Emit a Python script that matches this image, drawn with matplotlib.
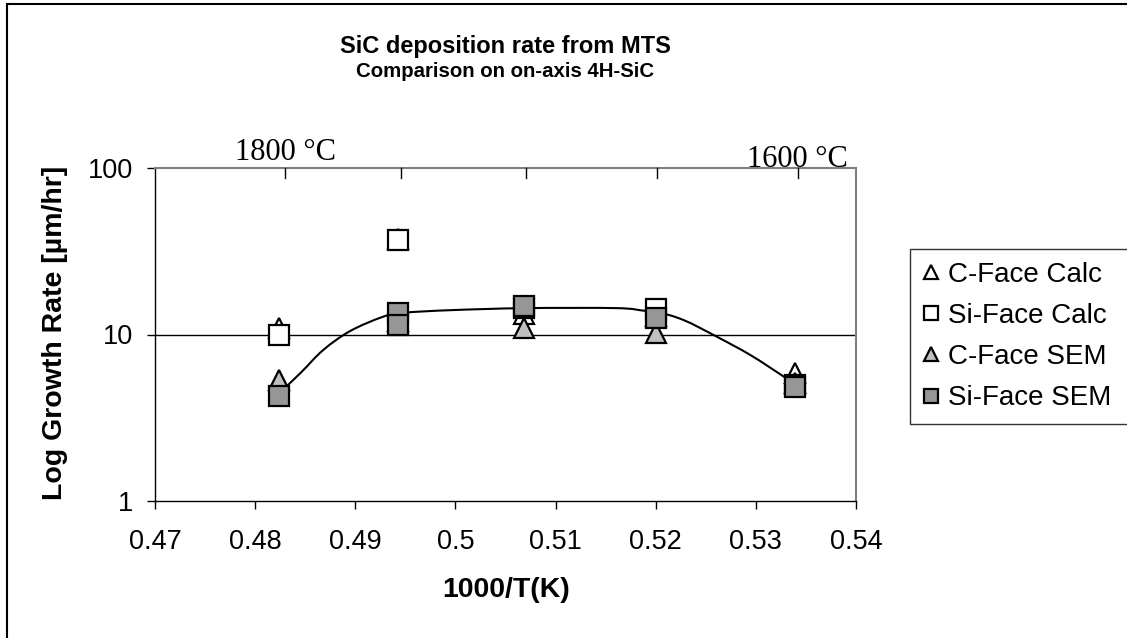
import numpy as np
import matplotlib
matplotlib.use("Agg")
import matplotlib.pyplot as plt
from matplotlib.path import Path
from matplotlib.patches import PathPatch, Rectangle
from matplotlib.transforms import blended_transform_factory

plt.rcParams['font.family'] = ['Liberation Sans', 'DejaVu Sans']

# DATA
inv_t = [0.4824, 0.4943, 0.5068, 0.5200, 0.5339]
c_face_calc = [11.0, 37.5, 13.3, 12.9, 5.9]
si_face_calc = [10.0, 37.0, 14.5, 14.2, 5.0]
c_face_sem = [5.3, 12.0, 11.0, 10.2, 5.1]
# two Si-face SEM measurements at 0.4943
si_sem_x = [0.4824, 0.4943, 0.4943, 0.5068, 0.5200, 0.5339]
si_face_sem = [4.27, 13.4, 11.4, 14.8, 12.6, 4.84]

# trend line
trend_x = [0.4817, 0.4845, 0.4868, 0.4895, 0.4928, 0.4948, 0.4995, 0.5070,
           0.5161, 0.5188, 0.5201, 0.5228, 0.5261, 0.5295, 0.5328, 0.5343]
trend_y = [4.04, 5.85, 8.07, 10.5, 12.8, 13.5, 14.0, 14.4,
           14.4, 13.9, 13.7, 12.2, 9.7, 7.5, 5.58, 4.86]

# top axis (temperature) ticks
top_tick_x = [0.4830, 0.4946, 0.5070, 0.5201, 0.5342]
top_labels = {0: "1800 °C", 4: "1600 °C"}

x_ticks = [0.47, 0.48, 0.49, 0.5, 0.51, 0.52, 0.53, 0.54]
x_ticklabels = ["0.47", "0.48", "0.49", "0.5", "0.51", "0.52", "0.53", "0.54"]
y_ticks = [1, 10, 100]


def smooth_path(xs, ys):
    # smoothed line: bezier segments with catmull-rom control points,
    # built in (x, log y) space so it looks right on the log axis
    px = np.array(xs)
    py = np.log10(np.array(ys))
    n = len(px)
    verts = [(px[0], py[0])]
    codes = [Path.MOVETO]
    for i in range(n - 1):
        p0 = i - 1 if i > 0 else 0
        p3 = i + 2 if i + 2 < n else n - 1
        c1 = (px[i] + (px[i + 1] - px[p0]) / 6, py[i] + (py[i + 1] - py[p0]) / 6)
        c2 = (px[i + 1] - (px[p3] - px[i]) / 6, py[i + 1] - (py[p3] - py[i]) / 6)
        verts += [c1, c2, (px[i + 1], py[i + 1])]
        codes += [Path.CURVE4] * 3
    verts = [(vx, 10 ** vy) for vx, vy in verts]
    return Path(verts, codes)


fig = plt.figure(figsize=(11.27, 6.38), dpi=100)
ax = fig.add_axes([155 / 1127, 1 - 501 / 638, 701 / 1127, 333 / 638])

ax.set_yscale('log')
ax.set_xlim(0.47, 0.54)
ax.set_ylim(1, 100)

ax.axhline(10, color='black', lw=1, zorder=1)

ax.add_patch(PathPatch(smooth_path(trend_x, trend_y), fill=False, ec='black', lw=1.5, zorder=2))

ms = 14
mew = 1.6
ax.plot(inv_t, c_face_calc, ls='none', marker='^', ms=ms, mfc='white', mec='black', mew=mew,
        label='C-Face Calc', zorder=3)
ax.plot(inv_t, si_face_calc, ls='none', marker='s', ms=ms, mfc='white', mec='black', mew=mew,
        label='Si-Face Calc', zorder=4)
ax.plot(inv_t, c_face_sem, ls='none', marker='^', ms=ms, mfc='#c0c0c0', mec='black', mew=mew,
        label='C-Face SEM', zorder=5)
ax.plot(si_sem_x, si_face_sem, ls='none', marker='s', ms=ms, mfc='#969696', mec='black', mew=mew,
        label='Si-Face SEM', zorder=6)

ax.set_xticks(x_ticks)
ax.set_xticklabels(x_ticklabels)
ax.set_yticks(y_ticks)
ax.set_yticklabels([str(v) for v in y_ticks])
ax.yaxis.set_minor_locator(matplotlib.ticker.NullLocator())
ax.tick_params(axis='both', direction='out', length=6, width=1, labelsize=19.5, colors='black')
ax.tick_params(axis='x', pad=14)
ax.tick_params(axis='y', pad=10)

for s in ['top', 'right']:
    ax.spines[s].set_color('#808080')
    ax.spines[s].set_linewidth(1.5)
for s in ['left', 'bottom']:
    ax.spines[s].set_color('black')
    ax.spines[s].set_linewidth(1)

# top temperature ticks, pointing into the plot
trans = blended_transform_factory(ax.transData, ax.transAxes)
for i, tx in enumerate(top_tick_x):
    ax.plot([tx, tx], [1.0, 0.97], color='black', lw=1, transform=trans, clip_on=False, zorder=7)
    if i in top_labels:
        ax.text(tx, 1.024 if i == 0 else 1.003, top_labels[i], transform=trans, ha='center',
                va='baseline', fontsize=22, family=['Liberation Serif', 'DejaVu Serif'])

fig.text(505 / 1127, 1 - 53 / 638, "SiC deposition rate from MTS", ha='center', va='baseline',
         fontsize=17, fontweight='bold')
fig.text(505 / 1127, 1 - 77 / 638, "Comparison on on-axis 4H-SiC", ha='center', va='baseline',
         fontsize=14.7, fontweight='bold')
fig.text(55 / 1127, 1 - 333 / 638, "Log Growth Rate [µm/hr]", rotation=90, ha='center', va='center',
         fontsize=20.5, fontweight='bold')
fig.text(506 / 1127, 1 - 590 / 638, "1000/T(K)", ha='center', va='center',
         fontsize=20.5, fontweight='bold')

# legend box runs off the right edge like in the original
leg = fig.legend(loc='upper left', bbox_to_anchor=(910 / 1127, 1 - 249 / 638, 0.3, 0), mode='expand',
                 fontsize=20, frameon=True, fancybox=False, edgecolor='black', markerscale=0.7,
                 handlelength=0.6, handletextpad=0.3, labelspacing=0.55, borderpad=0.45,
                 borderaxespad=0)
leg.get_frame().set_linewidth(1)

# chart area border
fig.patches.append(Rectangle((7 / 1127, -0.05), 1.2, 0.05 + 1 - 4 / 638, transform=fig.transFigure,
                             fill=False, ec='black', lw=1.5))

fig.savefig('out.png', dpi=100)
